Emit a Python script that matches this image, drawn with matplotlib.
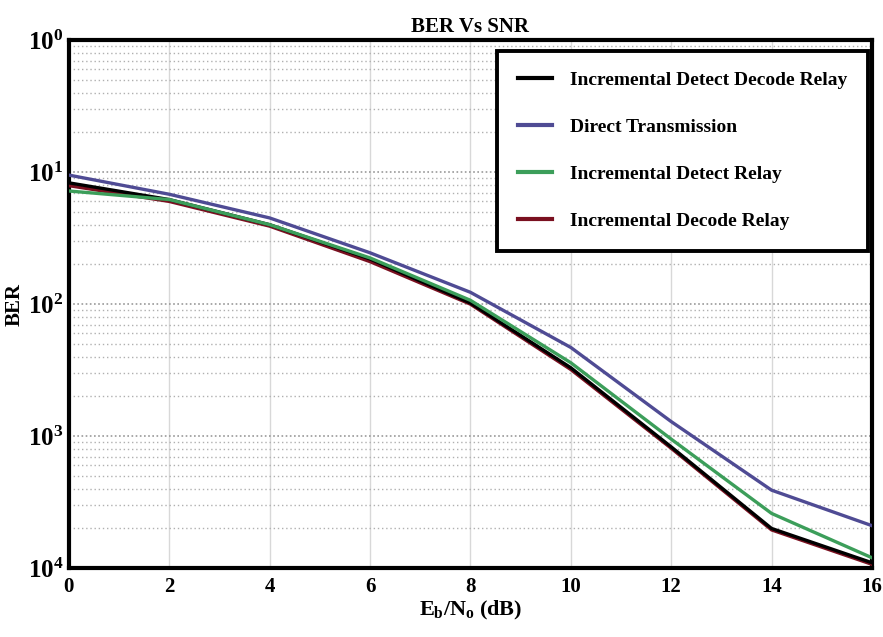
import numpy as np
import matplotlib
matplotlib.use('Agg')
import matplotlib.pyplot as plt
from matplotlib.ticker import FixedLocator, FixedFormatter, LogLocator, NullFormatter

plt.rcParams['font.family'] = 'Liberation Serif'
plt.rcParams['font.weight'] = 'bold'
plt.rcParams['mathtext.fontset'] = 'custom'
plt.rcParams['mathtext.rm'] = 'Liberation Serif:bold'
plt.rcParams['mathtext.it'] = 'Liberation Serif:bold'
plt.rcParams['mathtext.bf'] = 'Liberation Serif:bold'

snr = [0, 2, 4, 6, 8, 10, 12, 14, 16]
ber_direct = [9.5e-2, 6.8e-2, 4.5e-2, 2.45e-2, 1.23e-2, 4.7e-3, 1.29e-3, 3.9e-4, 2.1e-4]
ber_detect = [7.2e-2, 6.2e-2, 4.0e-2, 2.24e-2, 1.07e-2, 3.6e-3, 9.5e-4, 2.6e-4, 1.2e-4]
ber_detect_decode = [8.3e-2, 6.2e-2, 4.0e-2, 2.2e-2, 1.02e-2, 3.3e-3, 8.3e-4, 2.0e-4, 1.1e-4]
ber_decode = [7.9e-2, 6.0e-2, 3.9e-2, 2.1e-2, 1.0e-2, 3.2e-3, 8.1e-4, 1.95e-4, 1.07e-4]

ytick_vals = [1, 1e-1, 1e-2, 1e-3, 1e-4]
ytick_labels = [r'$10^{0}$', r'$10^{1}$', r'$10^{2}$', r'$10^{3}$', r'$10^{4}$']
xticks = [0, 2, 4, 6, 8, 10, 12, 14, 16]

fig = plt.figure(figsize=(8.83, 6.37), dpi=100)
ax = fig.add_axes([0.078, 0.108, 0.9095, 0.829])

lw = 2.4
l_red, = ax.plot(snr, ber_decode, color='#7a1020', lw=lw, label='Incremental Decode Relay', zorder=3)
l_black, = ax.plot(snr, ber_detect_decode, color='black', lw=lw, label='Incremental Detect Decode Relay', zorder=4)
l_green, = ax.plot(snr, ber_detect, color='#3c9e5a', lw=lw, label='Incremental Detect Relay', zorder=5)
l_blue, = ax.plot(snr, ber_direct, color='#4f4b94', lw=lw, label='Direct Transmission', zorder=6)

ax.set_yscale('log')
ax.set_xlim(0, 16)
ax.set_ylim(1e-4, 1)
ax.xaxis.set_major_locator(FixedLocator(xticks))
ax.yaxis.set_major_locator(FixedLocator(ytick_vals))
ax.yaxis.set_major_formatter(FixedFormatter(ytick_labels))
ax.yaxis.set_minor_locator(LogLocator(base=10, subs=np.arange(2, 10)))
ax.yaxis.set_minor_formatter(NullFormatter())
ax.tick_params(axis='both', which='both', length=0, labelsize=15, pad=6)
ax.tick_params(axis='y', labelsize=18, pad=4)

ax.grid(True, axis='x', color='#d8d8d8', lw=1.0)
ax.grid(True, axis='y', which='major', color='#999999', lw=1.2, ls=(0, (1, 1.5)))
ax.grid(True, axis='y', which='minor', color='#b0b0b0', lw=1.0, ls=(0, (1, 2)))

for s in ax.spines.values():
    s.set_linewidth(3)

ax.set_title('BER Vs SNR', fontsize=15, fontweight='bold', pad=6)
ax.set_xlabel(r'$E_b$/$N_o$ (dB)', fontsize=16, fontweight='bold', labelpad=2)
ax.set_ylabel('BER', fontsize=15, fontweight='bold', labelpad=2)

leg = ax.legend(handles=[l_black, l_blue, l_green, l_red], loc='upper right',
                bbox_to_anchor=(0.995, 0.98), borderaxespad=0, fontsize=14,
                frameon=True, fancybox=False,
                handlelength=1.75, handletextpad=0.95, labelspacing=1.52, borderpad=1.05,
                edgecolor='black', framealpha=1)
leg.get_frame().set_linewidth(2.8)
for h in leg.get_lines():
    h.set_linewidth(3)

fig.savefig('out.png', dpi=100)
